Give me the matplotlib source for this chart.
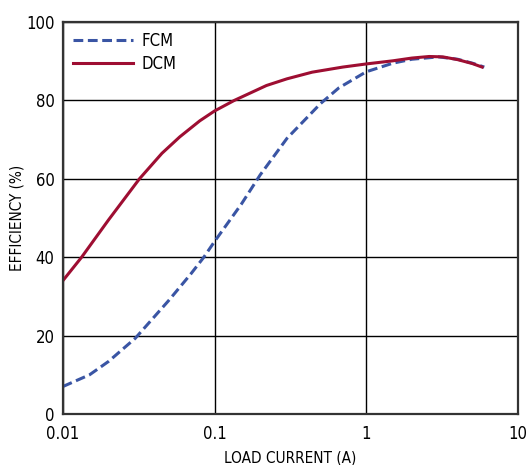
import matplotlib.pyplot as plt
from matplotlib.ticker import FixedLocator, FixedFormatter, NullLocator
from matplotlib import font_manager

# --- Data ---
fcm_current = [0.01, 0.015, 0.02, 0.03, 0.05, 0.07, 0.085, 0.1, 0.15, 0.2, 0.3, 0.5, 0.66, 1.0, 1.5, 2.0, 3.0, 4.0, 5.0, 6.0]
fcm_eff = [7.0, 10.0, 13.4, 19.3, 29.0, 35.8, 40.0, 44.0, 53.5, 61.0, 70.3, 79.2, 83.2, 87.3, 89.5, 90.5, 91.1, 90.5, 89.5, 88.5]

dcm_current = [0.01, 0.0133, 0.02, 0.032, 0.045, 0.059, 0.08, 0.1, 0.135, 0.22, 0.3, 0.44, 0.7, 1.0, 1.5, 2.0, 2.6, 3.2, 4.0, 5.0, 5.8]
dcm_eff = [34.0, 40.0, 49.5, 60.0, 66.5, 70.7, 74.8, 77.3, 80.0, 83.8, 85.5, 87.2, 88.5, 89.3, 90.1, 90.8, 91.2, 91.1, 90.4, 89.4, 88.5]

x_ticks = [0.01, 0.1, 1, 10]
x_tick_labels = ['0.01', '0.1', '1', '10']
y_ticks = [0, 20, 40, 60, 80, 100]

names = {f.name for f in font_manager.fontManager.ttflist}
if 'Liberation Sans Narrow' in names:
    plt.rcParams['font.family'] = ['Liberation Sans Narrow', 'DejaVu Sans']
else:
    plt.rcParams['font.family'] = ['DejaVu Sans']
    plt.rcParams['font.stretch'] = 'condensed'

fig = plt.figure(figsize=(5.28, 4.65), dpi=100)
ax = fig.add_axes([0.119, 0.1097, 0.862, 0.843])

ax.plot(fcm_current, fcm_eff, color='#3A55A4', linewidth=2.2, linestyle=(0, (3.2, 1.5)), label='FCM')
ax.plot(dcm_current, dcm_eff, color='#9E0E32', linewidth=2.2, label='DCM')

ax.set_xscale('log')
ax.set_xlim(0.01, 10)
ax.set_ylim(0, 100)
ax.xaxis.set_major_locator(FixedLocator(x_ticks))
ax.xaxis.set_major_formatter(FixedFormatter(x_tick_labels))
ax.xaxis.set_minor_locator(NullLocator())
ax.set_yticks(y_ticks)

ax.grid(True, color='black', linewidth=1.0)
ax.set_axisbelow(True)
ax.tick_params(axis='x', length=0, labelsize=12, pad=8)
ax.tick_params(axis='y', length=0, labelsize=12, pad=6)
for s in ax.spines.values():
    s.set_linewidth(1.6)
    s.set_color('#333333')

ax.set_xlabel('LOAD CURRENT (A)', fontsize=11, labelpad=5)
ax.set_ylabel('EFFICIENCY (%)', fontsize=11, labelpad=1)

ax.legend(loc='upper left', frameon=False, fontsize=12, handlelength=3.6,
          handletextpad=0.5, borderaxespad=0.2, labelspacing=0.3)

plt.savefig('out.png', dpi=100)
